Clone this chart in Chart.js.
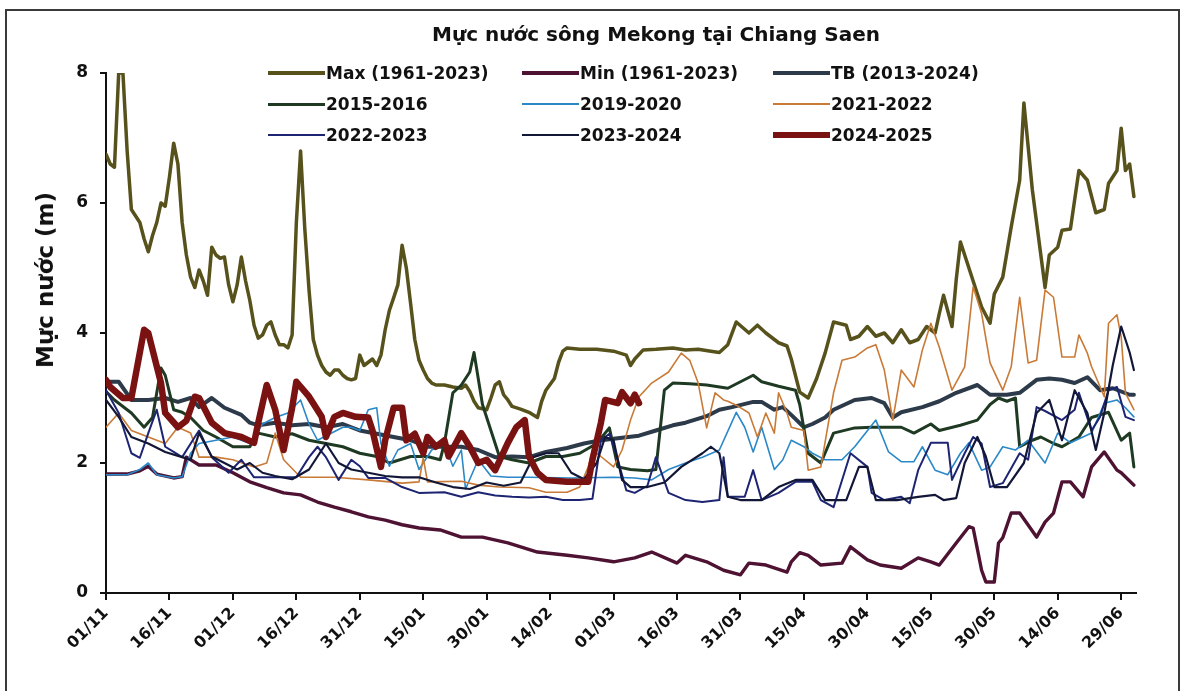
<!DOCTYPE html>
<html><head><meta charset="utf-8">
<script src="https://cdn.jsdelivr.net/npm/chart.js@4.4.1/dist/chart.umd.min.js"></script>
<style>
html,body{margin:0;padding:0;background:#fff;}
#wrap{position:relative;width:1186px;height:691px;overflow:hidden;background:#fff;}
#frame{position:absolute;left:5px;top:9px;width:1175px;height:720px;border:2px solid #3a3a3a;box-sizing:border-box;}
#c{position:absolute;left:0;top:0;}
#title{position:absolute;top:22px;left:356px;width:600px;text-align:center;font:bold 20px "DejaVu Sans";color:#111;}
.leg{position:absolute;font:bold 17px "DejaVu Sans";color:#111;white-space:nowrap;display:flex;align-items:center;}
.sw{display:inline-block;width:57px;margin-right:1px;}
#ytitle{position:absolute;left:45px;top:280px;transform:translate(-50%,-50%) rotate(-90deg);font:bold 23px "DejaVu Sans";color:#111;white-space:nowrap;}
</style></head>
<body><div id="wrap">
<div id="frame"></div>
<canvas id="c" width="1186" height="691"></canvas>
<div id="title">Mực nước sông Mekong tại Chiang Saen</div>
<div id="ytitle">Mực nước (m)</div>
<div id="legend"></div>
</div>
<script>
// ---- data (day index from 01/11, water level in m) ----
const tickLabels = ["01/11","16/11","01/12","16/12","31/12","15/01","30/01","14/02","01/03","16/03","31/03","15/04","30/04","15/05","30/05","14/06","29/06"];
const tickDays = [0,15,30,45,60,75,90,105,120,135,150,165,180,195,210,225,240];
const seriesNames = ["Max (1961-2023)","Min (1961-2023)","TB (2013-2024)","2015-2016","2019-2020","2021-2022","2022-2023","2023-2024","2024-2025"];

const maxData = [[0,6.75],[1,6.6],[2,6.55],[3,8.0],[4,8.0],[5,6.8],[6,5.9],[7,5.8],[8,5.7],[9,5.45],[10,5.25],[11,5.5],[12,5.7],[13,6.0],[14,5.95],[15,6.4],[16,6.92],[17,6.6],[18,5.7],[19,5.2],[20,4.86],[21,4.7],[22,4.97],[23,4.8],[24,4.58],[25,5.32],[26,5.2],[27,5.15],[28,5.17],[29,4.74],[30,4.48],[31,4.74],[32,5.17],[33,4.8],[34,4.5],[35,4.12],[36,3.92],[37,3.97],[38,4.12],[39,4.17],[40,3.97],[41,3.82],[42,3.82],[43,3.77],[44,3.97],[45,5.7],[46,6.8],[47,5.6],[48,4.66],[49,3.9],[50,3.66],[51,3.5],[52,3.4],[53,3.35],[54,3.43],[55,3.43],[56,3.35],[57,3.3],[58,3.28],[59,3.3],[60,3.66],[61,3.5],[62,3.55],[63,3.6],[64,3.5],[65,3.66],[66,4.05],[67,4.35],[68,4.54],[69,4.74],[70,5.35],[71,5.0],[72,4.46],[73,3.9],[74,3.58],[75,3.43],[76,3.3],[77,3.23],[78,3.2],[80,3.2],[82,3.17],[84,3.15],[85,3.2],[86,3.1],[87,2.95],[88,2.85],[90,2.82],[91,3.0],[92,3.2],[93,3.25],[94,3.05],[95,2.97],[96,2.87],[98,2.83],[100,2.78],[102,2.7],[103,2.95],[104,3.12],[106,3.3],[107,3.55],[108,3.72],[109,3.77],[112,3.75],[116,3.75],[120,3.72],[123,3.66],[124,3.5],[125,3.6],[127,3.74],[130,3.75],[134,3.77],[137,3.74],[140,3.75],[143,3.72],[145,3.7],[147,3.82],[149,4.17],[152,4.0],[154,4.12],[156,4.0],[159,3.85],[161,3.8],[162,3.6],[164,3.09],[166,3.0],[168,3.3],[170,3.69],[172,4.17],[175,4.12],[176,3.9],[178,3.95],[180,4.1],[182,3.95],[184,4.0],[186,3.85],[188,4.05],[190,3.85],[192,3.9],[194,4.1],[196,4.0],[197,4.3],[198,4.58],[200,4.1],[201,4.82],[202,5.4],[205,4.8],[207,4.4],[209,4.15],[210,4.6],[212,4.86],[214,5.63],[216,6.35],[217,7.54],[219,6.2],[222,4.7],[223,5.2],[225,5.32],[226,5.58],[228,5.6],[230,6.5],[232,6.35],[234,5.85],[236,5.9],[237,6.3],[239,6.5],[240,7.15],[241,6.5],[242,6.6],[243,6.1]];

const minData = [[0,1.83],[5,1.83],[8,1.88],[10,1.95],[12,1.83],[16,1.77],[18,1.79],[19,2.09],[22,1.97],[26,1.97],[30,1.85],[34,1.71],[38,1.62],[42,1.54],[46,1.51],[50,1.4],[54,1.32],[58,1.25],[62,1.17],[66,1.12],[70,1.05],[74,1.0],[79,0.97],[84,0.86],[89,0.86],[95,0.77],[102,0.63],[109,0.58],[114,0.54],[120,0.48],[125,0.54],[129,0.63],[135,0.46],[137,0.58],[142,0.48],[146,0.35],[150,0.28],[152,0.46],[156,0.43],[161,0.32],[162,0.48],[164,0.62],[166,0.58],[169,0.43],[174,0.46],[176,0.71],[180,0.51],[183,0.43],[188,0.38],[192,0.54],[195,0.48],[197,0.43],[201,0.77],[204,1.02],[205,1.0],[207,0.35],[208,0.17],[210,0.17],[211,0.77],[212,0.85],[214,1.23],[216,1.23],[220,0.86],[222,1.09],[224,1.23],[226,1.71],[228,1.71],[231,1.48],[233,1.94],[236,2.17],[239,1.89],[240,1.85],[243,1.66]];

const tbData = [[0,3.25],[3,3.25],[6,2.97],[10,2.97],[14,3.0],[17,2.94],[20,3.0],[22,2.86],[25,3.0],[28,2.85],[32,2.74],[34,2.62],[36,2.58],[40,2.62],[44,2.58],[48,2.6],[52,2.55],[56,2.6],[60,2.5],[64,2.45],[68,2.4],[72,2.35],[76,2.25],[80,2.25],[84,2.25],[88,2.2],[92,2.09],[96,2.1],[100,2.09],[104,2.17],[109,2.23],[113,2.3],[117,2.35],[121,2.38],[126,2.42],[130,2.5],[134,2.58],[137,2.62],[142,2.72],[145,2.82],[148,2.86],[153,2.94],[155,2.94],[158,2.82],[160,2.86],[162,2.74],[165,2.55],[167,2.6],[170,2.7],[172,2.82],[177,2.97],[181,3.0],[184,2.92],[186,2.7],[188,2.78],[193,2.86],[197,2.95],[201,3.08],[206,3.2],[209,3.05],[213,3.05],[216,3.08],[220,3.28],[223,3.3],[226,3.28],[229,3.23],[232,3.32],[235,3.12],[238,3.15],[242,3.05],[243,3.05]];

const y2015Data = [[0,3.1],[2,2.97],[6,2.77],[9,2.55],[11,2.7],[13,3.46],[14,3.35],[16,2.82],[18,2.78],[20,2.7],[23,2.5],[26,2.4],[30,2.25],[34,2.25],[36,2.46],[40,2.4],[44,2.45],[48,2.35],[52,2.3],[56,2.25],[60,2.15],[64,2.1],[67,2.0],[72,2.1],[76,2.1],[79,2.05],[80,2.3],[82,3.08],[84,3.2],[86,3.4],[87,3.7],[89,2.9],[91,2.5],[93,2.1],[96,2.05],[100,2.0],[104,2.1],[108,2.1],[112,2.15],[116,2.3],[119,2.54],[121,1.94],[124,1.9],[128,1.88],[130,1.9],[132,3.12],[134,3.23],[138,3.22],[142,3.2],[147,3.15],[153,3.35],[155,3.25],[159,3.18],[163,3.12],[164,2.9],[166,2.15],[169,2.0],[172,2.46],[177,2.54],[181,2.55],[185,2.55],[188,2.55],[191,2.46],[195,2.6],[197,2.5],[202,2.58],[206,2.66],[209,2.9],[211,3.0],[213,2.95],[215,3.0],[216,2.25],[219,2.35],[221,2.4],[224,2.3],[226,2.25],[230,2.4],[233,2.7],[237,2.78],[240,2.35],[242,2.46],[243,1.94]];

const y2019Data = [[0,1.82],[5,1.82],[8,1.9],[10,2.0],[12,1.82],[16,1.77],[18,1.79],[20,2.15],[22,2.3],[26,2.35],[30,2.4],[34,2.3],[37,2.6],[40,2.7],[43,2.77],[46,2.97],[48,2.6],[50,2.35],[53,2.45],[56,2.55],[58,2.55],[60,2.5],[62,2.82],[64,2.85],[65,2.3],[67,1.95],[69,2.2],[72,2.3],[74,1.9],[77,2.2],[80,2.3],[82,1.95],[84,2.2],[85,1.6],[88,2.05],[91,1.8],[95,1.78],[100,1.78],[110,1.77],[120,1.78],[125,1.77],[129,1.74],[133,1.9],[137,2.0],[141,2.09],[145,2.2],[149,2.78],[151,2.55],[153,2.17],[155,2.55],[158,1.9],[160,2.05],[162,2.35],[165,2.25],[167,2.15],[170,2.05],[174,2.05],[177,2.25],[182,2.66],[185,2.17],[188,2.02],[191,2.02],[193,2.25],[196,1.89],[199,1.82],[202,2.15],[204,2.31],[207,1.89],[209,1.94],[212,2.25],[215,2.2],[218,2.35],[222,2.0],[225,2.46],[228,2.31],[233,2.46],[236,2.92],[239,2.97],[241,2.85],[243,2.71]];

const y2021Data = [[0,2.55],[3,2.77],[6,2.5],[10,2.4],[14,2.3],[17,2.55],[20,2.46],[22,2.09],[26,2.09],[30,2.05],[35,1.94],[38,2.0],[40,2.46],[42,2.05],[46,1.78],[54,1.78],[62,1.74],[70,1.69],[74,1.71],[75,2.08],[76,1.71],[84,1.72],[88,1.66],[93,1.63],[100,1.62],[104,1.55],[109,1.55],[112,1.63],[114,1.94],[115,2.2],[117,2.1],[120,1.94],[122,2.2],[124,2.66],[126,3.02],[129,3.23],[133,3.4],[136,3.69],[138,3.58],[140,3.23],[142,2.54],[144,3.08],[146,2.97],[147,2.95],[149,2.89],[152,2.77],[154,2.4],[156,2.77],[158,2.46],[159,3.08],[161,2.77],[162,2.55],[165,2.5],[166,1.89],[169,1.94],[172,3.08],[174,3.58],[177,3.63],[180,3.77],[182,3.82],[184,3.43],[186,2.66],[188,3.43],[191,3.17],[193,3.74],[195,4.15],[197,3.78],[200,3.12],[203,3.48],[205,4.71],[207,4.3],[209,3.54],[212,3.12],[214,3.48],[216,4.55],[218,3.54],[220,3.58],[222,4.66],[224,4.55],[226,3.63],[229,3.63],[230,3.97],[232,3.69],[233,3.48],[236,3.02],[237,4.15],[239,4.28],[240,3.94],[241,3.08],[243,2.82]];

const y2022Data = [[0,3.12],[3,2.77],[6,2.15],[8,2.08],[10,2.46],[12,2.82],[14,2.25],[16,2.17],[18,2.09],[21,2.4],[22,2.5],[25,2.09],[29,1.85],[32,2.05],[35,1.78],[38,1.78],[42,1.78],[45,1.78],[48,2.09],[50,2.25],[52,2.09],[55,1.74],[58,2.05],[60,1.95],[62,1.77],[66,1.77],[70,1.63],[74,1.54],[80,1.55],[84,1.48],[88,1.55],[92,1.5],[96,1.48],[100,1.47],[104,1.48],[108,1.43],[112,1.43],[115,1.45],[117,2.35],[119,2.45],[121,2.05],[123,1.58],[125,1.54],[128,1.65],[130,2.09],[133,1.54],[137,1.43],[141,1.4],[145,1.43],[146,2.09],[147,1.48],[151,1.48],[153,1.89],[155,1.43],[159,1.54],[163,1.71],[167,1.71],[169,1.43],[172,1.32],[176,2.15],[180,1.94],[181,1.54],[184,1.43],[188,1.48],[190,1.38],[192,1.89],[195,2.31],[199,2.31],[200,1.74],[203,2.15],[205,2.4],[207,2.3],[209,1.63],[212,1.69],[216,2.15],[218,2.05],[220,2.86],[222,2.8],[226,2.66],[229,2.82],[230,3.08],[233,2.5],[235,2.71],[237,3.12],[239,3.17],[241,2.71],[243,2.66]];

const y2023Data = [[0,2.97],[3,2.71],[6,2.4],[10,2.3],[14,2.17],[18,2.09],[20,2.05],[22,2.46],[25,2.1],[28,2.0],[31,1.9],[34,2.0],[37,1.85],[40,1.8],[44,1.75],[48,1.9],[52,2.3],[55,2.0],[58,1.9],[62,1.85],[66,1.8],[70,1.78],[74,1.78],[78,1.7],[82,1.63],[86,1.6],[90,1.7],[94,1.65],[98,1.7],[101,2.09],[104,2.15],[107,2.15],[110,1.85],[113,1.75],[116,2.0],[118,2.4],[120,2.35],[122,1.74],[124,1.63],[128,1.63],[132,1.7],[136,1.94],[141,2.15],[143,2.25],[145,2.15],[147,1.48],[150,1.43],[155,1.43],[159,1.63],[163,1.74],[167,1.74],[170,1.43],[175,1.43],[178,1.94],[180,1.94],[182,1.43],[187,1.43],[192,1.48],[196,1.51],[198,1.43],[201,1.46],[203,2.0],[206,2.4],[208,2.1],[210,1.63],[213,1.63],[217,2.0],[220,2.77],[223,2.97],[226,2.35],[229,3.12],[232,2.77],[234,2.2],[236,2.77],[238,3.5],[240,4.1],[242,3.7],[243,3.43]];

const y2024Data = [[0,3.28],[1,3.17],[4,3.0],[6,3.0],[9,4.05],[10,4.0],[13,3.23],[14,2.77],[17,2.55],[19,2.65],[21,3.02],[22,3.0],[25,2.62],[28,2.46],[32,2.4],[35,2.31],[36,2.62],[38,3.2],[40,2.82],[42,2.2],[44,2.85],[45,3.25],[48,3.02],[51,2.71],[52,2.4],[54,2.71],[56,2.77],[59,2.71],[62,2.7],[63,2.5],[65,1.94],[66,2.35],[68,2.85],[70,2.85],[71,2.35],[73,2.45],[75,2.15],[76,2.4],[78,2.25],[80,2.35],[81,2.1],[84,2.46],[86,2.25],[88,2.0],[90,2.05],[92,1.89],[95,2.31],[97,2.55],[99,2.66],[100,2.1],[102,1.85],[104,1.74],[109,1.71],[114,1.71],[115,2.05],[117,2.62],[118,2.97],[121,2.92],[122,3.09],[124,2.92],[125,3.05],[126,2.92]];

const seriesData = [maxData,minData,tbData,y2015Data,y2019Data,y2021Data,y2022Data,y2023Data,y2024Data];
const seriesColors = ["#57521c","#4e1232","#2c3a4a","#1f3a22","#2a88c8","#c97a36","#1d2572","#131737","#7b1212"];
const seriesWidths = [3.5,3.4,4,3,1.6,1.6,2,2.2,6.5];

// ---- legend (HTML) ----
const legPos = [[268,62],[522,62],[773,62],[268,93],[522,93],[773,93],[268,124],[522,124],[773,124]];
const legEl = document.getElementById('legend');
seriesNames.forEach((n,i)=>{
  const d=document.createElement('div'); d.className='leg';
  d.style.left=legPos[i][0]+'px'; d.style.top=legPos[i][1]+'px'; d.style.height='22px';
  const s=document.createElement('span'); s.className='sw';
  s.style.height=Math.max(2,seriesWidths[i])+'px'; s.style.background=seriesColors[i];
  d.appendChild(s); d.appendChild(document.createTextNode(n)); legEl.appendChild(d);
});

const tickFont = {family:'DejaVu Sans', weight:'bold', size:16};
new Chart(document.getElementById('c'), {
  type:'line',
  data:{datasets: seriesNames.map((n,i)=>({
    label:n, data: seriesData[i].map(p=>({x:p[0],y:p[1]})),
    borderColor:seriesColors[i], backgroundColor:seriesColors[i],
    borderWidth:seriesWidths[i], pointRadius:0, tension:0, fill:false,
    borderJoinStyle:'round', borderCapStyle:'round',
    order: seriesNames.length - i
  }))},
  options:{
    responsive:false, animation:false, devicePixelRatio:1,
    layout:{padding:{left:0, top:73, right:50, bottom:0}},
    plugins:{legend:{display:false}, title:{display:false}, tooltip:{enabled:false}},
    scales:{
      x:{type:'linear', min:0, max:243.5,
        afterBuildTicks: s => { s.ticks = tickDays.map(v=>({value:v})); },
        afterFit: s => { s.height = 98; },
        grid:{drawOnChartArea:false, drawTicks:true, tickLength:7, color:'#111', lineWidth:2},
        border:{display:true, color:'#111', width:2},
        ticks:{font:tickFont, color:'#111', minRotation:45, maxRotation:45, padding:4, autoSkip:false,
          callback: v => tickLabels[tickDays.indexOf(v)] ?? ''}
      },
      y:{min:0, max:8,
        afterFit: s => { s.width = 106; },
        grid:{drawOnChartArea:false, drawTicks:true, tickLength:6, color:'#111', lineWidth:2},
        border:{display:true, color:'#111', width:2},
        ticks:{font:{family:'DejaVu Sans', weight:'bold', size:17}, color:'#111', stepSize:2, padding:12}
      }
    }
  }
});
</script>
</body></html>
